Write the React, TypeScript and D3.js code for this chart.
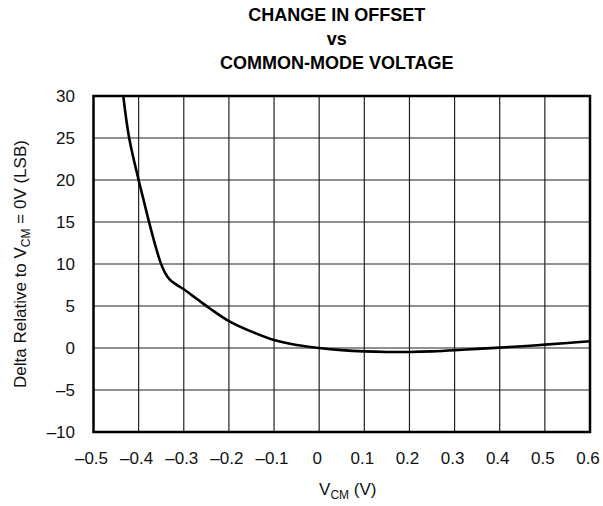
import React from "react";
import * as d3 from "d3";

const vcm = [-0.434, -0.421, -0.4, -0.388, -0.376, -0.363, -0.351, -0.342, -0.332, -0.318, -0.3, -0.285, -0.27, -0.242, -0.2, -0.15, -0.1, -0.05, 0, 0.05, 0.1, 0.15, 0.2, 0.25, 0.3, 0.35, 0.4, 0.45, 0.5, 0.55, 0.6];
const delta = [30, 25, 20, 17.4, 14.8, 12.2, 10.1, 9.0, 8.2, 7.6, 7.0, 6.4, 5.8, 4.7, 3.2, 1.95, 0.95, 0.35, 0, -0.25, -0.4, -0.47, -0.47, -0.4, -0.27, -0.1, 0.05, 0.2, 0.4, 0.6, 0.8];
const xTicks = [-0.5, -0.4, -0.3, -0.2, -0.1, 0, 0.1, 0.2, 0.3, 0.4, 0.5, 0.6];
const yTicks = [-10, -5, 0, 5, 10, 15, 20, 25, 30];
const titleLines = ["CHANGE IN OFFSET", "vs", "COMMON-MODE VOLTAGE"];

const W = 603, H = 506;
const L = 93.5, R = 590, T = 96, B = 432;
const font = "'Liberation Sans', Arial, Helvetica, sans-serif";

function fmt(v: number) {
  if (v === 0) return "0";
  const s = Math.abs(v) < 1 && !Number.isInteger(v) ? Math.abs(v).toFixed(1) : String(Math.abs(v));
  return (v < 0 ? "\u2013" : "") + s;
}

export default function App() {
  const x = d3.scaleLinear().domain([-0.5, 0.6]).range([L, R]);
  const y = d3.scaleLinear().domain([-10, 30]).range([B, T]);
  const line = d3.line<number>().x((_, i) => x(vcm[i])).y((d) => y(d)).curve(d3.curveCatmullRom.alpha(0.5));
  return (
    <svg width={W} height={H} style={{ position: "absolute", left: 0, top: 0, background: "#fff" }}>
      <rect x={0} y={0} width={W} height={H} fill="#fff" />
      {titleLines.map((t, i) => (
        <text key={t} x={(L + R) / 2 - 5} y={21 + i * 24} textAnchor="middle" fontFamily={font} fontWeight="bold" fontSize={18} fill="#000">{t}</text>
      ))}
      {xTicks.map((v) => (
        <line key={"gx" + v} x1={x(v)} x2={x(v)} y1={T} y2={B} stroke="#222" strokeWidth={1.2} />
      ))}
      {yTicks.map((v) => (
        <line key={"gy" + v} x1={L} x2={R} y1={y(v)} y2={y(v)} stroke="#222" strokeWidth={1.2} />
      ))}
      <path d={line(delta) || ""} fill="none" stroke="#000" strokeWidth={2.6} strokeLinejoin="round" />
      <rect x={L} y={T} width={R - L} height={B - T} fill="none" stroke="#000" strokeWidth={2.5} />
      {xTicks.map((v) => (
        <text key={"tx" + v} x={x(v) - 2} y={464} textAnchor="middle" fontFamily={font} fontSize={17} fill="#111">{fmt(v)}</text>
      ))}
      {yTicks.map((v) => (
        <text key={"ty" + v} x={75} y={y(v) + 6} textAnchor="end" fontFamily={font} fontSize={17} fill="#111">{fmt(v)}</text>
      ))}
      <text x={(L + R) / 2 + 6} y={495} textAnchor="middle" fontFamily={font} fontSize={17} fill="#111">
        V<tspan fontSize={12} dy={4}>CM</tspan><tspan dy={-4}> (V)</tspan>
      </text>
      <text transform={`translate(26, ${(T + B) / 2}) rotate(-90)`} textAnchor="middle" fontFamily={font} fontSize={17} fill="#111">
        Delta Relative to V<tspan fontSize={12} dy={4}>CM</tspan><tspan dy={-4}> = 0V (LSB)</tspan>
      </text>
    </svg>
  );
}
